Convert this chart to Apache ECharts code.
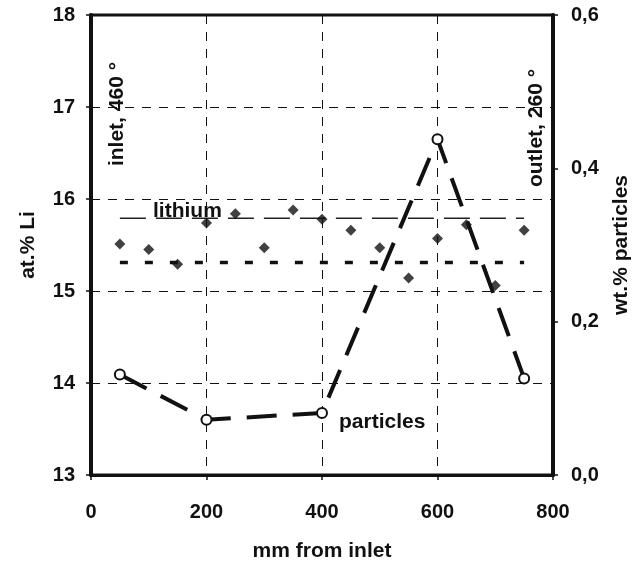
<!DOCTYPE html>
<html>
<head>
<meta charset="utf-8">
<script src="https://cdn.jsdelivr.net/npm/echarts@6/dist/echarts.min.js"></script>
<style>
  html, body { margin: 0; padding: 0; background: #fff; }
  #chart { width: 640px; height: 567px; }
</style>
</head>
<body>
<div id="chart"></div>
<script>
// lithium content along the tube (left axis)
const liPos = [50, 100, 150, 200, 250, 300, 350, 400, 450, 500, 550, 600, 650, 700, 750];
const liValues = [15.51, 15.45, 15.29, 15.74, 15.84, 15.47, 15.88, 15.78, 15.66, 15.47, 15.14, 15.57, 15.72, 15.06, 15.66];
// the two horizontal reference lines
const refPos = [50, 750];
const lithiumLine = [15.79, 15.79];
const meanLine = [15.31, 15.31];
// particles (right axis)
const partPos = [50, 200, 400, 600, 750];
const partValues = [0.131, 0.072, 0.081, 0.438, 0.126];
// tick labels
const xTicks = [0, 200, 400, 600, 800];
const leftTicks = [13, 14, 15, 16, 17, 18];
const rightTicks = [0, 0.2, 0.4, 0.6];

const FONT = "'Liberation Sans', Arial, sans-serif";
const pairs = (xs, ys) => xs.map((x, i) => [x, ys[i]]);

const chart = echarts.init(document.getElementById('chart'));

const option = {
  animation: false,
  backgroundColor: '#fff',
  grid: {
    left: 91, right: 75, top: 15, bottom: 85,
    show: true, borderColor: '#111', borderWidth: 3
  },
  xAxis: {
    type: 'value',
    min: xTicks[0], max: xTicks[xTicks.length - 1], interval: 200,
    name: 'mm from inlet',
    nameLocation: 'middle',
    nameGap: 66,
    nameTextStyle: { fontFamily: FONT, fontWeight: 'bold', fontSize: 21, color: '#111' },
    axisLine: { lineStyle: { color: '#111', width: 3 } },
    axisTick: { length: 5, lineStyle: { color: '#111', width: 1.5 } },
    axisLabel: { margin: 27, fontFamily: FONT, fontWeight: 'bold', fontSize: 20, color: '#111' },
    splitLine: { show: true, lineStyle: { color: '#111', width: 1, type: [9, 8] } }
  },
  yAxis: [
    {
      type: 'value',
      min: leftTicks[0], max: leftTicks[leftTicks.length - 1], interval: 1,
      name: 'at.% Li',
      nameLocation: 'middle',
      nameGap: 52,
      nameRotate: 90,
      nameTextStyle: { fontFamily: FONT, fontWeight: 'bold', fontSize: 21, color: '#111' },
      axisLine: { show: true, lineStyle: { color: '#111', width: 4 } },
      axisTick: { show: true, length: 5, lineStyle: { color: '#111', width: 1.5 } },
      axisLabel: { margin: 16, fontFamily: FONT, fontWeight: 'bold', fontSize: 20, color: '#111' },
      splitLine: { show: true, lineStyle: { color: '#111', width: 1, type: [9, 8] } }
    },
    {
      type: 'value',
      min: rightTicks[0], max: rightTicks[rightTicks.length - 1], interval: 0.2,
      position: 'right',
      name: 'wt.% particles',
      nameLocation: 'middle',
      nameGap: 58,
      nameRotate: 90,
      nameTextStyle: { fontFamily: FONT, fontWeight: 'bold', fontSize: 21, color: '#111' },
      axisLine: { show: true, lineStyle: { color: '#111', width: 4 } },
      axisTick: { show: true, length: 5, lineStyle: { color: '#111', width: 1.5 } },
      axisLabel: {
        margin: 18, fontFamily: FONT, fontWeight: 'bold', fontSize: 20, color: '#111',
        formatter: v => v.toFixed(1).replace('.', ',')
      },
      splitLine: { show: false }
    }
  ],
  series: [
    {
      name: 'lithium',
      type: 'line',
      data: pairs(refPos, lithiumLine),
      symbol: 'none',
      lineStyle: { color: '#222', width: 1.5, type: [26, 10] },
      z: 2
    },
    {
      name: 'mean',
      type: 'line',
      data: pairs(refPos, meanLine),
      symbol: 'none',
      lineStyle: { color: '#111', width: 3.5, type: [8, 17] },
      z: 2
    },
    {
      name: 'Li',
      type: 'scatter',
      data: pairs(liPos, liValues),
      symbol: 'diamond',
      symbolSize: [11, 11],
      itemStyle: { color: '#111' },
      z: 4
    },
    {
      name: 'particles',
      type: 'line',
      yAxisIndex: 1,
      data: pairs(partPos, partValues),
      symbol: 'circle',
      symbolSize: 10,
      showAllSymbol: true,
      lineStyle: { color: '#111', width: 4, type: [30, 16] },
      itemStyle: { color: '#fff', borderColor: '#111', borderWidth: 2 },
      z: 3
    }
  ],
  graphic: [
    {
      type: 'text', left: 153, top: 201, z: 10,
      style: { text: 'lithium', fontFamily: FONT, fontWeight: 'bold', fontSize: 21, fill: '#111' }
    },
    {
      type: 'text', left: 339, top: 412, z: 10,
      style: { text: 'particles', fontFamily: FONT, fontWeight: 'bold', fontSize: 21, fill: '#111' }
    },
    {
      type: 'text', x: 117, y: 114, rotation: Math.PI / 2, z: 10,
      style: { text: 'inlet, 460 °', fontFamily: FONT, fontWeight: 'bold', fontSize: 21, fill: '#111',
               textAlign: 'center', textVerticalAlign: 'middle' }
    },
    {
      type: 'text', x: 536, y: 128, rotation: Math.PI / 2, z: 10,
      style: { text: 'outlet, 260 °', fontFamily: FONT, fontWeight: 'bold', fontSize: 21, fill: '#111',
               textAlign: 'center', textVerticalAlign: 'middle' }
    }
  ]
};

chart.setOption(option);
</script>
</body>
</html>
